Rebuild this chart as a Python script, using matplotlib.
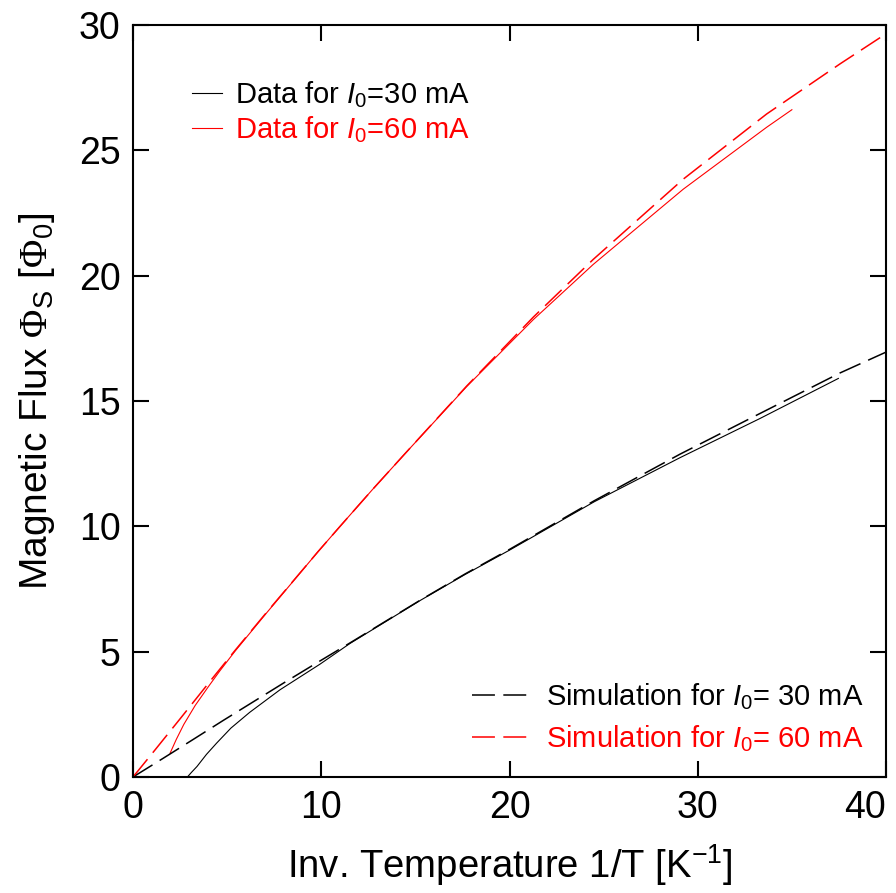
import matplotlib
matplotlib.use("Agg")
import matplotlib.pyplot as plt

plt.rcParams['font.family'] = ['Liberation Sans', 'DejaVu Sans']
plt.rcParams['mathtext.fontset'] = 'custom'
plt.rcParams['mathtext.rm'] = 'Liberation Serif'
plt.rcParams['mathtext.sf'] = 'Liberation Sans'
plt.rcParams['mathtext.it'] = 'Liberation Sans:italic'
plt.rcParams['mathtext.bf'] = 'Liberation Sans:bold'

# Simulation, I0 = 60 mA (red dashed)
sim60_x = [0, 1.17, 2.5, 4.18, 5.42, 7.0, 9.84, 11.0, 12.7, 14.45, 17.73, 21.27, 24.45, 29.23, 33.66, 37.56, 40.0]
sim60_y = [0, 1.08, 2.32, 3.9, 5.05, 6.48, 9.0, 10.0, 11.45, 12.9, 15.6, 18.35, 20.65, 23.85, 26.45, 28.45, 29.65]

# Data, I0 = 60 mA (red solid)
dat60_x = [1.97, 2.3, 2.7, 3.3, 4.0, 4.6, 5.42, 7.0, 9.84, 11.0, 12.7, 14.45, 17.73, 21.27, 24.45, 29.23, 33.66, 35.0]
dat60_y = [0.95, 1.5, 2.1, 2.85, 3.6, 4.22, 5.02, 6.46, 9.0, 10.0, 11.45, 12.9, 15.58, 18.25, 20.45, 23.45, 25.92, 26.62]

# Simulation, I0 = 30 mA (black dashed)
sim30_x = [0, 1.61, 3.2, 4.8, 6.39, 7.98, 9.58, 11.53, 15.25, 17.64, 20.0, 24.5, 29.06, 33.3, 37.56, 40.0]
sim30_y = [0, 0.75, 1.5, 2.26, 3.0, 3.74, 4.47, 5.35, 7.05, 8.1, 9.08, 11.02, 12.88, 14.5, 16.12, 16.95]

# Data, I0 = 30 mA (black solid)
dat30_x = [2.89, 3.1, 3.4, 3.9, 4.44, 5.2, 6.2, 7.81, 9.93, 11.53, 15.25, 17.64, 20.0, 24.5, 29.06, 33.3, 37.47]
dat30_y = [0, 0.18, 0.42, 0.9, 1.35, 1.95, 2.58, 3.48, 4.5, 5.33, 7.04, 8.08, 9.05, 10.98, 12.74, 14.3, 15.9]

x_ticks = [0, 10, 20, 30, 40]
y_ticks = [0, 5, 10, 15, 20, 25, 30]

fig = plt.figure(figsize=(8.96, 8.93), dpi=100)
ax = fig.add_axes([133/896, 1-777/893, (886-133)/896, (777-25)/893])

dash = (15, 5.5)
l_d30, = ax.plot(dat30_x, dat30_y, color='black', lw=0.8, label=r'Data for $\mathit{I}_{\mathsf{0}}$=30 mA')
l_d60, = ax.plot(dat60_x, dat60_y, color='#ff0000', lw=0.8, label=r'Data for $\mathit{I}_{\mathsf{0}}$=60 mA')
l_s30, = ax.plot(sim30_x, sim30_y, color='black', lw=1.1, dashes=dash, label=r'Simulation for $\mathit{I}_{\mathsf{0}}$= 30 mA')
l_s60, = ax.plot(sim60_x, sim60_y, color='#ff0000', lw=1.1, dashes=dash, label=r'Simulation for $\mathit{I}_{\mathsf{0}}$= 60 mA')

ax.set_xlim(0, 40)
ax.set_ylim(0, 30)
ax.set_xticks(x_ticks)
ax.set_yticks(y_ticks)
ax.tick_params(direction='in', length=11.5, width=1.5, top=True, right=True, labelsize=27, pad=9)
for s in ax.spines.values():
    s.set_linewidth(1.5)
xl = ax.get_xticklabels()
xl[-1].set_horizontalalignment('right')

ax.set_xlabel(r'Inv. Temperature 1/T [K$^{\mathsf{-1}}$]', fontsize=27.5, labelpad=12)
ax.set_ylabel(r'Magnetic Flux $\Phi_{\mathsf{S}}$ [$\Phi_{\mathsf{0}}$]', fontsize=28, labelpad=16)

leg1 = ax.legend(handles=[l_d30, l_d60], loc='upper left', bbox_to_anchor=(0.078, 0.928),
                 frameon=False, fontsize=21, handlelength=1.05, handletextpad=0.45,
                 labelspacing=0.15, borderpad=0, borderaxespad=0, labelcolor='linecolor')
ax.add_artist(leg1)
leg2 = ax.legend(handles=[l_s30, l_s60], loc='lower right', bbox_to_anchor=(0.97, 0.03),
                 frameon=False, fontsize=21, handlelength=1.95, handletextpad=0.58,
                 labelspacing=0.4, borderpad=0, borderaxespad=0, labelcolor='linecolor')

fig.savefig('out.png', dpi=100)
